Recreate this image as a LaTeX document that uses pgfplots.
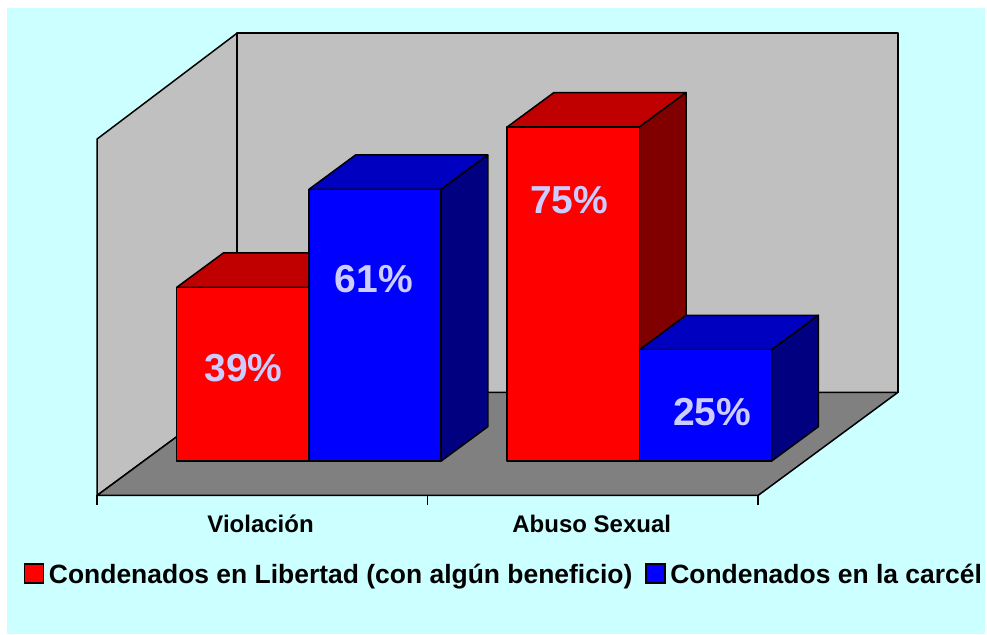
\documentclass[border=0pt]{standalone}
\usepackage{fontspec}
\setmainfont{Liberation Sans}
\usepackage{pgfplots}
\pgfplotsset{compat=1.18}
\definecolor{bgc}{HTML}{CCFFFF}
\definecolor{wallc}{HTML}{C0C0C0}
\definecolor{floorc}{HTML}{808080}
\definecolor{rtop}{HTML}{C00000}
\definecolor{rside}{HTML}{800000}
\definecolor{btop}{HTML}{0000C0}
\definecolor{bside}{HTML}{000080}
\definecolor{lblc}{HTML}{CCCCFF}
\def\Dx{0.4236}
\def\Dy{23.165}
\pgfplotsset{edge/.style={draw=black,line width=1.5pt,line join=round,mark=none,forget plot}}
% #1 left x of bar, #2 value (%), #3 front, #4 top, #5 side colour
\newcommand{\cube}[5]{%
  \pgfmathsetmacro{\xa}{#1+\Dx/3}%
  \pgfmathsetmacro{\xb}{#1+0.4+\Dx/3}%
  \pgfmathsetmacro{\xc}{#1+2*\Dx/3}%
  \pgfmathsetmacro{\xd}{#1+0.4+2*\Dx/3}%
  \pgfmathsetmacro{\ya}{\Dy/3}%
  \pgfmathsetmacro{\yb}{#2+\Dy/3}%
  \pgfmathsetmacro{\yc}{2*\Dy/3}%
  \pgfmathsetmacro{\yd}{#2+2*\Dy/3}%
  \edef\temp{%
    \noexpand\addplot[edge,fill=#4] coordinates {(\xa,\yb) (\xb,\yb) (\xd,\yd) (\xc,\yd)} -- cycle;
    \noexpand\addplot[edge,fill=#5] coordinates {(\xb,\ya) (\xd,\yc) (\xd,\yd) (\xb,\yb)} -- cycle;
    \noexpand\addplot[edge,fill=#3] coordinates {(\xa,\ya) (\xb,\ya) (\xb,\yb) (\xa,\yb)} -- cycle;
  }\temp}
\begin{document}
\begin{tikzpicture}
\begin{axis}[
  scale only axis, width=987pt, height=634pt,
  xmin=-0.29349, xmax=2.69289, ymin=-31.089, ymax=111.223,
  hide axis, clip=false,
  legend columns=2,
  legend style={at={(axis cs:-0.2209,-17.55)}, anchor=west, draw=none, fill=none,
    inner sep=0pt, outer sep=0pt,
    font=\fontsize{26.45}{30}\selectfont\bfseries,
    cells={anchor=west},
    nodes={inner sep=0pt, text height=19pt, text depth=0pt},
    /tikz/every even column/.append style={column sep=13pt}},
  legend image code/.code={%
    \draw[#1,draw=black,line width=1.5pt] (0pt,-9.5pt) rectangle (19pt,9.5pt);
    \path (24pt,0pt);}
]
\addlegendimage{fill=red}
\addlegendentry{Condenados en Libertad (con algún beneficio)}
\addlegendimage{fill=blue}
\addlegendentry{Condenados en la carcél}
% background
\fill[white] (rel axis cs:0,0) rectangle (rel axis cs:1,1);
\fill[bgc] (axis cs:-0.2723,-31.089) rectangle (axis cs:2.6868,109.43);
% walls and floor
\addplot[edge,fill=wallc] coordinates {(0,0) (0.4236,23.165) (0.4236,103.765) (0,80)} -- cycle;
\addplot[edge,fill=wallc] coordinates {(0.4236,23.165) (2.4236,23.165) (2.4236,103.765) (0.4236,103.765)} -- cycle;
\addplot[edge,fill=floorc] coordinates {(0,0) (2,0) (2.4236,23.165) (0.4236,23.165)} -- cycle;
% ticks
\addplot[edge] coordinates {(0,0) (0,-2.13)};
\addplot[edge] coordinates {(1,0) (1,-2.13)};
\addplot[edge] coordinates {(2,0) (2,-2.13)};
% bars
\cube{0.1}{39}{red}{rtop}{rside}
\cube{0.5}{61}{blue}{btop}{bside}
\cube{1.1}{75}{red}{rtop}{rside}
\cube{1.5}{25}{blue}{btop}{bside}
% value labels
\begin{scope}[every node/.style={font=\fontsize{39}{40}\selectfont\bfseries, text=lblc, anchor=center, inner sep=0pt}]
\node at (axis cs:0.4433,28.5) {39\%};
\node at (axis cs:0.8381,48.6) {61\%};
\node at (axis cs:1.4287,66.3) {75\%};
\node at (axis cs:1.8618,18.74) {25\%};
\end{scope}
% category labels
\begin{scope}[every node/.style={font=\fontsize{24}{26}\selectfont\bfseries, anchor=base, inner sep=0pt}]
\node at (axis cs:0.495,-8.35) {Violación};
\node at (axis cs:1.497,-8.35) {Abuso Sexual};
\end{scope}
\end{axis}
\end{tikzpicture}
\end{document}
